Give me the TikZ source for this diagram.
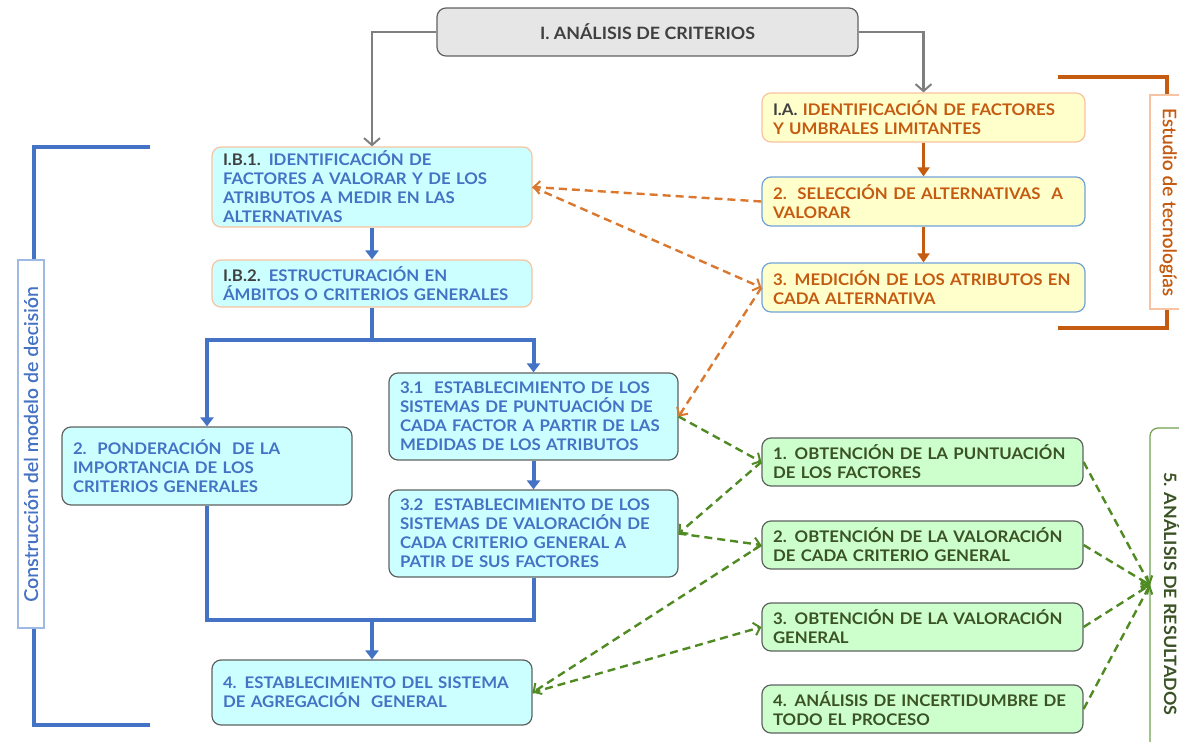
\documentclass[tikz,border=0pt]{standalone}
\usepackage{fontspec}
\setmainfont{Lato}
\newfontfamily\boxfont{Lato}[FakeStretch=1.05]
\newfontfamily\labelfont{Lato}[FakeStretch=1.03, FakeBold=0.6]
\usetikzlibrary{arrows.meta,calc}

\definecolor{cyanfill}{HTML}{CCFFFF}
\definecolor{yellowfill}{HTML}{FFFFCC}
\definecolor{greenfill}{HTML}{CCFFCC}
\definecolor{grayfill}{HTML}{E6E6E6}
\definecolor{peach}{HTML}{F8C3A0}
\definecolor{skyline}{HTML}{6FA3D8}
\definecolor{darkline}{HTML}{5E6360}
\definecolor{bluetxt}{HTML}{4472C4}
\definecolor{orangetxt}{HTML}{C55A11}
\definecolor{orangedash}{HTML}{D9782E}
\definecolor{greentxt}{HTML}{3A5224}
\definecolor{greendash}{HTML}{4F8A22}
\definecolor{greenframe}{HTML}{70A050}
\definecolor{graytxt}{HTML}{404040}
\definecolor{grayline}{HTML}{7F7F7F}
\definecolor{blueline}{HTML}{4472C4}
\definecolor{lightblue}{HTML}{9DB9E4}

\newcommand{\pre}[1]{{\color{graytxt}#1}}

\begin{document}
\begin{tikzpicture}[x=1pt,y=-1pt,
  box/.style={rounded corners=9pt, line width=1.2pt, inner xsep=11pt, inner ysep=3pt,
    align=left, font=\boxfont\bfseries\fontsize{16}{19}\selectfont},
  cyanpeach/.style={box, fill=cyanfill, draw=peach, text=bluetxt},
  cyandark/.style={box, fill=cyanfill, draw=darkline, text=bluetxt},
  yellowpeach/.style={box, fill=yellowfill, draw=peach, text=orangetxt},
  yellowsky/.style={box, fill=yellowfill, draw=skyline, text=orangetxt},
  greenbox/.style={box, fill=greenfill, draw=darkline, text=greentxt},
  grayarrow/.style={draw=grayline, line width=2.4pt, -{Straight Barb[length=7pt,width=16pt,line width=2pt]}},
  bluearrow/.style={draw=blueline, line width=4pt, line join=miter, -{Triangle[length=9pt,width=13pt]}},
  bluebar/.style={draw=blueline, line width=4pt, line join=miter},
  orangearrow/.style={draw=orangetxt, line width=3.5pt, -{Triangle[length=9pt,width=12pt]}},
  odash/.style={draw=orangedash, line width=2.4pt, dash pattern=on 8pt off 5pt,
    -{Straight Barb[length=6pt,width=13pt,line width=2pt]}},
  gdash/.style={draw=greendash, line width=2.4pt, dash pattern=on 8pt off 5pt,
    -{Straight Barb[length=6pt,width=13pt,line width=2pt]}},
]
\useasboundingbox (0,0) rectangle (1179,742);
\clip (0,0) rectangle (1179,742);

% ---------- top box ----------
\node[box, fill=grayfill, draw=darkline, text=graytxt, align=center,
  font=\boxfont\bfseries\fontsize{17}{19}\selectfont,
  minimum width=421pt, minimum height=48pt] (top) at (647.5,32)
  {I. ANÁLISIS DE CRITERIOS};

% ---------- technology study column ----------
\node[yellowpeach, minimum width=323pt, minimum height=49pt, text width=301pt] (ia) at (923.5,117.5)
  {\pre{I.A.} IDENTIFICACIÓN DE FACTORES\\Y UMBRALES LIMITANTES};
\node[yellowsky, minimum width=323pt, minimum height=49pt, text width=301pt] (sel) at (923.5,201.5)
  {2.\ \ SELECCIÓN DE ALTERNATIVAS\ \ A\\VALORAR};
\node[yellowsky, minimum width=323pt, minimum height=49pt, text width=301pt] (med) at (923.5,287.5)
  {3. MEDICIÓN DE LOS ATRIBUTOS EN\\CADA ALTERNATIVA};

% ---------- decision model column ----------
\node[cyanpeach, minimum width=320pt, minimum height=80pt, text width=298pt] (ib1) at (372,187)
  {\pre{I.B.1.} IDENTIFICACIÓN DE\\FACTORES A VALORAR Y DE LOS\\ATRIBUTOS A MEDIR EN LAS\\ALTERNATIVAS};
\node[cyanpeach, minimum width=320pt, minimum height=47pt, text width=298pt] (ib2) at (372,283.5)
  {\pre{I.B.2.} ESTRUCTURACIÓN EN\\ÁMBITOS O CRITERIOS GENERALES};
\node[cyandark, minimum width=290pt, minimum height=78pt, text width=268pt] (pond) at (207,466)
  {2.\ \ PONDERACIÓN\ \ DE LA\\IMPORTANCIA DE LOS\\CRITERIOS GENERALES};
\node[cyandark, minimum width=289pt, minimum height=87pt, text width=267pt] (s31) at (533.5,416.5)
  {3.1\ \ ESTABLECIMIENTO DE LOS\\SISTEMAS DE PUNTUACIÓN DE\\CADA FACTOR A PARTIR DE LAS\\MEDIDAS DE LOS ATRIBUTOS};
\node[cyandark, minimum width=289pt, minimum height=87pt, text width=267pt] (s32) at (533.5,533.5)
  {3.2\ \ ESTABLECIMIENTO DE LOS\\SISTEMAS DE VALORACIÓN DE\\CADA CRITERIO GENERAL A\\PATIR DE SUS FACTORES};
\node[cyandark, minimum width=320pt, minimum height=65pt, text width=298pt] (ag) at (372,692.5)
  {4. ESTABLECIMIENTO DEL SISTEMA\\DE AGREGACIÓN\ \ GENERAL};

% ---------- results column ----------
\node[greenbox, minimum width=321pt, minimum height=48pt, text width=299pt] (g1) at (922.5,462)
  {1. OBTENCIÓN DE LA PUNTUACIÓN\\DE LOS FACTORES};
\node[greenbox, minimum width=321pt, minimum height=48pt, text width=299pt] (g2) at (922.5,545)
  {2. OBTENCIÓN DE LA VALORACIÓN\\DE CADA CRITERIO GENERAL};
\node[greenbox, minimum width=321pt, minimum height=48pt, text width=299pt] (g3) at (922.5,627)
  {3. OBTENCIÓN DE LA VALORACIÓN\\GENERAL};
\node[greenbox, minimum width=321pt, minimum height=48pt, text width=299pt] (g4) at (922.5,709)
  {4. ANÁLISIS DE INCERTIDUMBRE DE\\TODO EL PROCESO};

% ---------- brackets and side labels ----------
\coordinate (lt) at (150,147);
\coordinate (lb) at (150,725);
\draw[bluebar] (lt) -- (34,147) -- (34,725) -- (lb);
\node[draw=lightblue, fill=white, line width=1.2pt, rotate=90, minimum width=368pt, minimum height=26pt,
  inner sep=0pt, text=bluetxt, font=\labelfont\fontsize{19}{20}\selectfont] (lblL) at (31,444)
  {Construcción del modelo de decisión};

\coordinate (ot) at (1058,77);
\coordinate (ob) at (1058,328);
\draw[draw=orangetxt, line width=4.5pt, line join=miter] (ot) -- (1167,77) -- (1167,328) -- (ob);
\node[draw=peach, fill=white, line width=1.2pt, rotate=-90, minimum width=214pt, minimum height=36pt,
  inner sep=0pt, text=orangetxt, font=\labelfont\fontsize{18.5}{20}\selectfont] (lblR) at (1168,202)
  {Estudio de tecnologías};

\node[draw=greenframe, fill=white, line width=1.2pt, rounded corners=8pt, rotate=-90,
  minimum width=332pt, minimum height=44pt, inner sep=0pt, text=greentxt,
  font=\boxfont\bfseries\fontsize{17}{18}\selectfont] (res) at (1172,594)
  {5. ANÁLISIS DE RESULTADOS};
\coordinate (conv) at (1150,585);

% ---------- connectors ----------
\draw[grayarrow] (top.west) -| (ib1.north);
\draw[grayarrow] (top.east) -| (ia.north);

\draw[orangearrow] (ia) -- (sel);
\draw[orangearrow] (sel) -- (med);

\coordinate (split) at (0,340);
\coordinate (merge) at (0,620);
\draw[bluearrow] (ib1) -- (ib2);
\draw[bluearrow] (ib2.south) |- (pond.north |- split) -- (pond.north);
\draw[bluearrow] (ib2.south) |- (s31.north |- split) -- (s31.north);
\draw[bluearrow] (s31) -- (s32);
\draw[bluebar] (pond.south) |- (ag.north |- merge);
\draw[bluebar] (s32.south) |- (ag.north |- merge);
\draw[bluearrow] (ag.north |- merge) -- (ag.north);

\draw[odash] (sel.west) -- (ib1.east);
\draw[odash] (ib1.east) -- (med.west);
\draw[odash] (med.west) -- (s31.east);

\draw[gdash] (s31.east) -- (g1.west);
\draw[gdash] (g1.west) -- (s32.east);
\draw[gdash] (s32.east) -- (g2.west);
\draw[gdash] (g2.west) -- (ag.east);
\draw[gdash] (ag.east) -- (g3.west);

\draw[gdash] (g1.east) -- (conv);
\draw[gdash] (g2.east) -- (conv);
\draw[gdash] (g3.east) -- (conv);
\draw[gdash] (g4.east) -- (conv);
\end{tikzpicture}
\end{document}
